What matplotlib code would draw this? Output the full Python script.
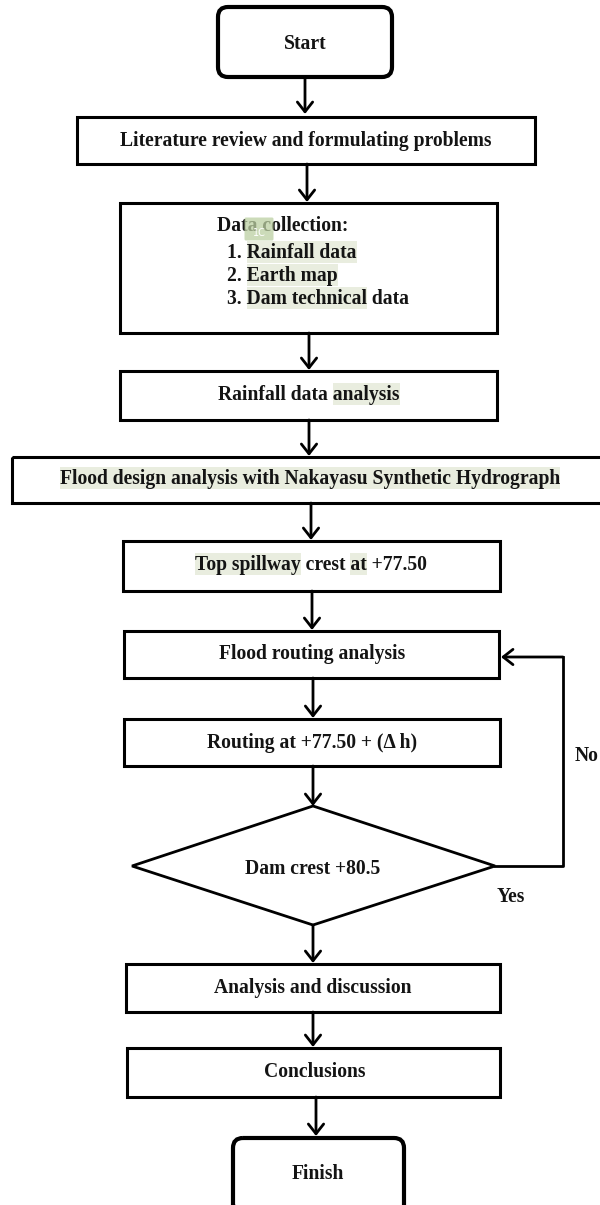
import matplotlib
matplotlib.use("Agg")
import matplotlib.pyplot as plt
from matplotlib.patches import Rectangle, FancyBboxPatch, Polygon, FancyArrowPatch

# text of each step, top to bottom
start_label = "Start"
finish_label = "Finish"
literature_label = "Literature review and formulating problems"
data_title = "Data collection:"
data_items = ["1. Rainfall data", "2. Earth map", "3. Dam technical data"]
rainfall_label = "Rainfall data analysis"
flood_design_label = "Flood design analysis with Nakayasu Synthetic Hydrograph"
spillway_label = "Top spillway crest at +77.50"
routing_label = "Flood routing analysis"
routing_at_label = "Routing at +77.50 + (\u0394 h)"
decision_label = "Dam crest +80.5"
analysis_label = "Analysis and discussion"
conclusions_label = "Conclusions"
no_label = "No"
yes_label = "Yes"

# highlighted (start, end) character spans per text line
hl_items = [(3, 16), (3, 12), (3, 16)]
hl_rainfall = [(14, 22)]
hl_flood = [(0, 56)]
hl_spillway = [(0, 12), (19, 21)]

HL = "#e9eddf"
INK = "#141414"
FS = 14.1

fig = plt.figure(figsize=(6, 12.05), dpi=100)
ax = fig.add_axes([0, 0, 1, 1])
ax.set_xlim(0, 600)
ax.set_ylim(1205, 0)
ax.axis("off")
renderer = fig.canvas.get_renderer()


def width(s):
	# width in px (== data units), sentinel keeps trailing spaces
	t = ax.text(0, 0, s + "|", fontsize=FS, fontweight="bold", family="Liberation Serif")
	t2 = ax.text(0, 0, "|", fontsize=FS, fontweight="bold", family="Liberation Serif")
	w = t.get_window_extent(renderer).width - t2.get_window_extent(renderer).width
	t.remove()
	t2.remove()
	return w


def line(x, y, s, spans=(), ha="center"):
	w = width(s)
	left = x - w / 2 if ha == "center" else x
	for a, b in spans:
		x0 = left + width(s[:a]) if a > 0 else left
		x1 = left + width(s[:b])
		ax.add_patch(Rectangle((x0, y - 11), x1 - x0, 22, facecolor=HL, edgecolor="none", zorder=2))
	ax.text(left, y + 1, s, fontsize=FS, fontweight="bold", family="Liberation Serif",
			color=INK, ha="left", va="center", zorder=3)


def box(x0, y0, x1, y1, lw=2.2):
	ax.add_patch(Rectangle((x0, y0), x1 - x0, y1 - y0, fill=False, edgecolor="black", lw=lw, zorder=1))


def rbox(x0, y0, x1, y1):
	ax.add_patch(FancyBboxPatch((x0 + 10, y0 + 10), x1 - x0 - 20, y1 - y0 - 20,
								boxstyle="round,pad=10", fill=False, edgecolor="black", lw=3, zorder=1))


def arrow(x, y0, y1, x1=None):
	if x1 is None:
		x1 = x
	ax.add_patch(FancyArrowPatch((x, y0), (x1, y1), arrowstyle="->,head_length=7,head_width=5.5",
								 lw=2, color="black", shrinkA=0, shrinkB=0, zorder=1))


# Start
rbox(218, 7, 392, 77)
line(305, 43, start_label)
arrow(305, 77, 114)

box(77, 117, 535, 164)
line(306, 140, literature_label)
arrow(307, 164, 202)

# data collection
box(120, 203, 497, 333)
ax.text(217, 226, data_title, fontsize=FS, fontweight="bold", family="Liberation Serif",
		color=INK, ha="left", va="center", zorder=3)
ax.add_patch(FancyBboxPatch((246, 219), 26, 20, boxstyle="round,pad=1.5",
							facecolor="#bcd0a2", edgecolor="none", alpha=0.75, zorder=4))
ax.text(259, 233, "1C", fontsize=7, color="white", ha="center", va="center", zorder=5)
for i, (item, sp) in enumerate(zip(data_items, hl_items)):
	line(227, 252 + 23 * i, item, [sp], ha="left")
arrow(309, 333, 370)

box(120, 371, 497, 420)
line(309, 394, rainfall_label, hl_rainfall)
arrow(309, 420, 456)

box(12, 457, 602, 503)
line(310, 478, flood_design_label, hl_flood)
arrow(311, 503, 540)

box(123, 541, 500, 591)
line(311, 564, spillway_label, hl_spillway)
arrow(312, 591, 630)

box(124, 631, 499, 678)
line(312, 653, routing_label)
arrow(313, 678, 718)

box(124, 719, 500, 766)
line(312, 742, routing_at_label)
arrow(313, 766, 806)

# decision
ax.add_patch(Polygon([(313, 806), (495, 866), (313, 925), (132, 866)], closed=True,
					 fill=False, edgecolor="black", lw=2, zorder=1))
line(313, 868, decision_label)
ax.plot([495, 563, 563], [866, 866, 657], color="black", lw=2, zorder=1)
arrow(563, 657, 657, x1=501)
ax.text(587, 756, no_label, fontsize=FS, fontweight="bold", family="Liberation Serif",
		color=INK, ha="center", va="center")
ax.text(511, 897, yes_label, fontsize=FS, fontweight="bold", family="Liberation Serif",
		color=INK, ha="center", va="center")
arrow(313, 925, 963)

box(126, 964, 500, 1012)
line(313, 987, analysis_label)
arrow(313, 1012, 1047)

box(127, 1048, 500, 1097)
line(315, 1071, conclusions_label)
arrow(316, 1097, 1136)

rbox(233, 1138, 404, 1215)
line(318, 1173, finish_label)

fig.savefig("out.png", dpi=100, facecolor="white")
